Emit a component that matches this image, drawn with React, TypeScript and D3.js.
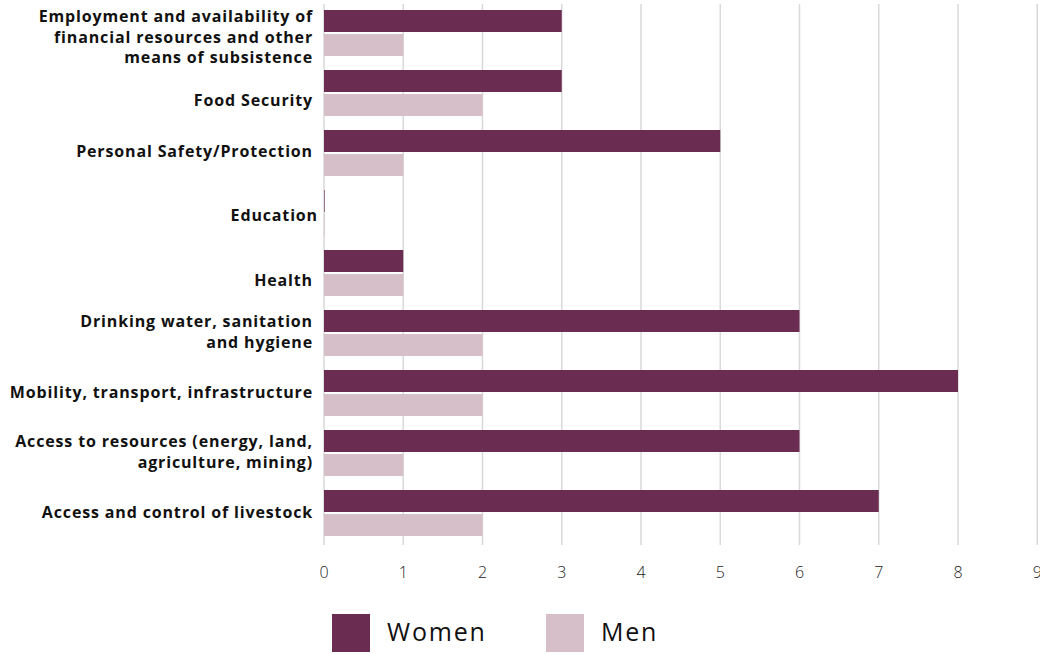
import React from "react";
import * as d3 from "d3";

const categories: string[][] = [
  ["Employment and availability of", "financial resources and other", "means of subsistence"],
  ["Food Security"],
  ["Personal Safety/Protection"],
  ["Education"],
  ["Health"],
  ["Drinking water, sanitation", "and hygiene"],
  ["Mobility, transport, infrastructure"],
  ["Access to resources (energy, land,", "agriculture, mining)"],
  ["Access and control of livestock"],
];
const women = [3, 3, 5, 0, 1, 6, 8, 6, 7];
const men = [1, 2, 1, 0, 1, 2, 2, 1, 2];
const seriesNames = ["Women", "Men"];
const xTicks = [0, 1, 2, 3, 4, 5, 6, 7, 8, 9];

// per-label nudges [dx, dy] for the category labels
const labelNudge: [number, number][] = [
  [0, 5], [0, 8], [0, -1], [5, 3], [0, 8], [0, 0], [0, 0], [0, 0], [0, 0],
];

const colors = ["#6B2C52", "#D6BFC8"];
const W = 1040;
const H = 654;
const FONT = "'Open Sans', sans-serif";

export default function App() {
  const x = d3.scaleLinear().domain([0, 9]).range([324, 1037.25]);
  const idx = categories.map((_, i) => i);
  const y = d3.scaleBand<number>().domain(idx).range([4, 544]).paddingInner(0.2).paddingOuter(0.1);
  const inner = d3.scaleBand<string>().domain(seriesNames).range([0, 46]).paddingInner(2 / 24);
  const values = [women, men];
  const lineH = 20.5;

  return (
    <svg width={W} height={H} style={{ position: "absolute", left: 0, top: 0, background: "#fff" }}>
      {/* vertical grid */}
      {xTicks.map((t) => (
        <line key={t} x1={x(t)} x2={x(t)} y1={4} y2={545} stroke="#d9d9d9" strokeWidth={1.5} />
      ))}
      {/* bars */}
      {idx.map((i) =>
        seriesNames.map((s, k) => {
          const v = values[k][i];
          const w = x(v) - x(0);
          return (
            <rect
              key={`${i}-${s}`}
              x={x(0)}
              y={(y(i) as number) + (inner(s) as number)}
              width={Math.max(w, 0.6)}
              height={inner.bandwidth()}
              fill={colors[k]}
            />
          );
        })
      )}
      {/* category labels */}
      {categories.map((lines, i) => {
        const [dx, dy] = labelNudge[i];
        const cy = (y(i) as number) + y.bandwidth() / 2 - 2 + dy;
        const start = cy - ((lines.length - 1) * lineH) / 2;
        return (
          <text
            key={i}
            textAnchor="end"
            fontFamily={FONT}
            fontWeight={700}
            fontSize={16}
            letterSpacing={0.85}
            fill="#111"
          >
            {lines.map((l, j) => (
              <tspan key={j} x={313 + dx} y={start + j * lineH} dy="0.35em">
                {l}
              </tspan>
            ))}
          </text>
        );
      })}
      {/* x tick labels */}
      {xTicks.map((t) => (
        <text
          key={t}
          x={x(t)}
          y={572}
          dy="0.35em"
          textAnchor="middle"
          fontFamily={FONT}
          fontWeight={300}
          fontSize={16}
          fill="#222"
        >
          {t}
        </text>
      ))}
      {/* legend */}
      {seriesNames.map((s, k) => {
        const lx = 332 + k * 214;
        return (
          <g key={s}>
            <rect x={lx} y={614} width={38} height={38} fill={colors[k]} />
            <text
              x={lx + 55}
              y={632}
              dy="0.35em"
              fontFamily={FONT}
              fontWeight={400}
              fontSize={25}
              letterSpacing={1.8}
              fill="#111"
            >
              {s}
            </text>
          </g>
        );
      })}
    </svg>
  );
}
